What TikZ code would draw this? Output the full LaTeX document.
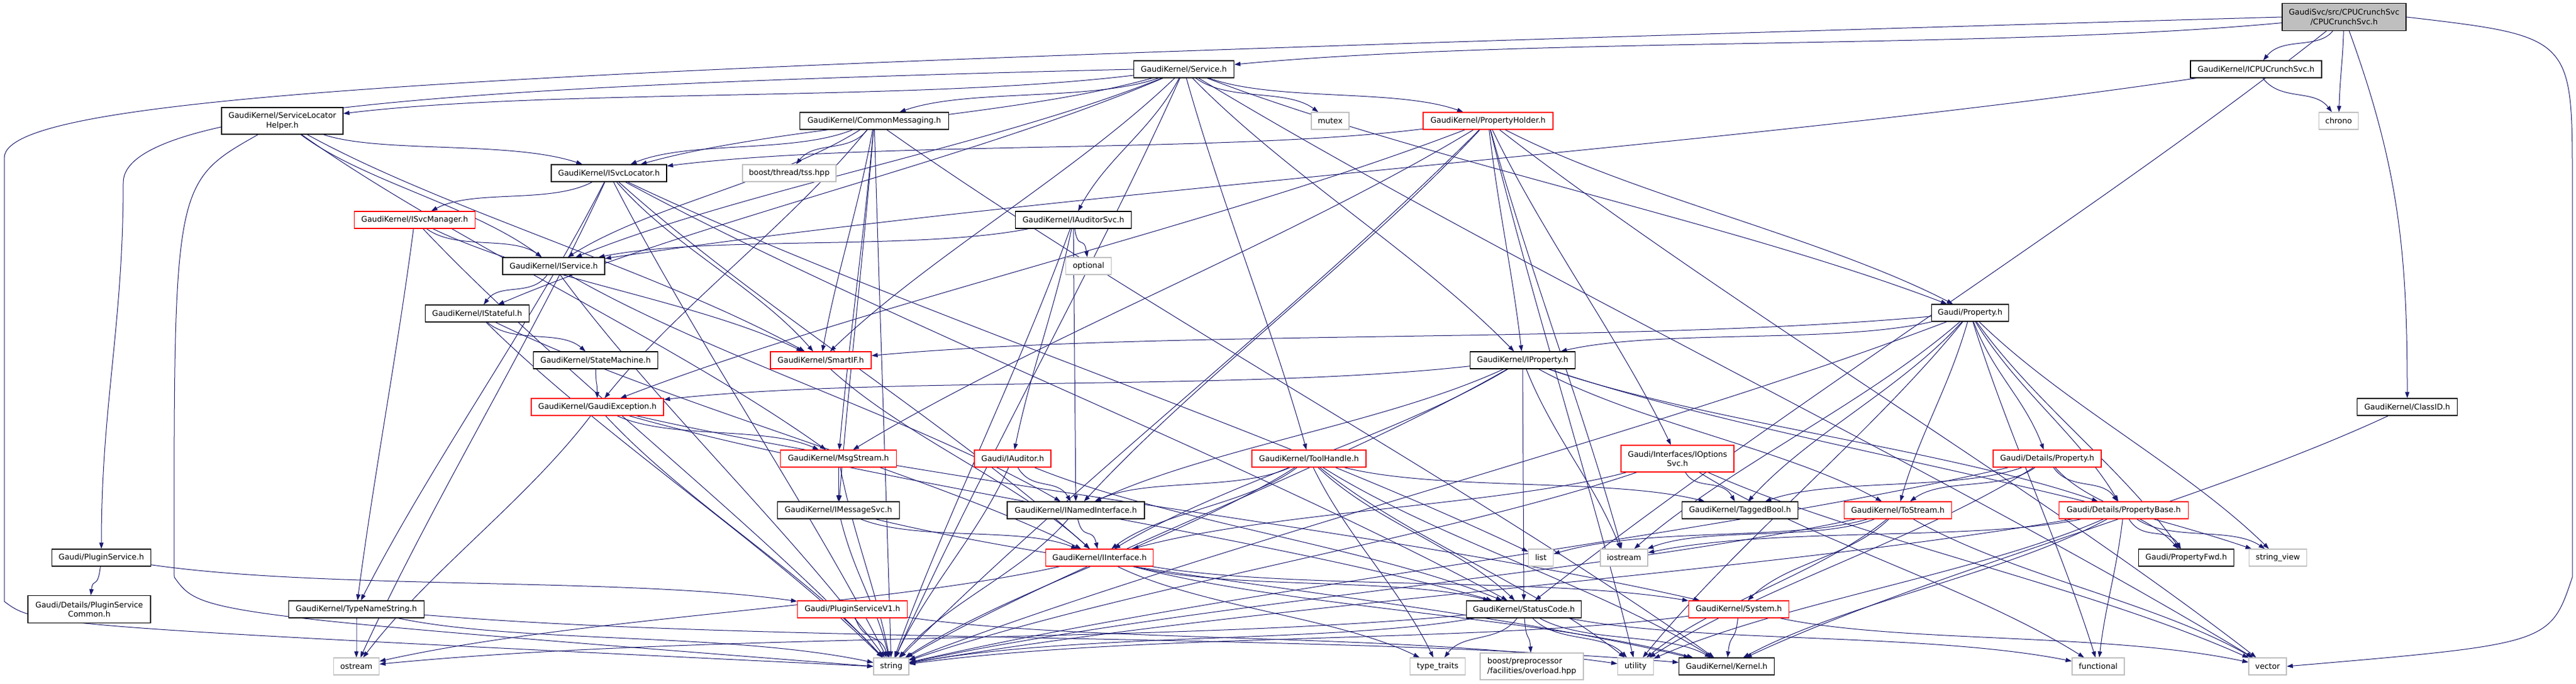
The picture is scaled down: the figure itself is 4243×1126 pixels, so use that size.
\documentclass[tikz,border=0pt]{standalone}
\usepackage{fontspec}
\setmainfont{DejaVu Sans}
\usetikzlibrary{arrows.meta,backgrounds,positioning,calc}

\definecolor{edgeblue}{HTML}{191970}
\definecolor{extgray}{HTML}{BFBFBF}

\tikzset{
  file/.style={draw=black, fill=white, line width=1.2pt, minimum height=28pt, inner sep=2pt,
    font=\fontsize{12.8}{15.5}\selectfont, align=center},
  trunc/.style={file, draw=red},
  ext/.style={file, draw=extgray},
  rootfile/.style={file, fill=extgray},
  edge/.style={draw=edgeblue, line width=1pt, -{Triangle[length=10pt,width=7pt]}},
}

\begin{document}
\begin{tikzpicture}[x=1pt,y=-1pt]

  \useasboundingbox (0,0) rectangle (4243,1126);

  % top of the graph
  \node[rootfile, minimum width=204pt, minimum height=45pt] (root) at (3861,28) {GaudiSvc/src/CPUCrunchSvc\\/CPUCrunchSvc.h};
  \node[file, minimum width=165pt] (svc) at (1950,114) {GaudiKernel/Service.h};
  \node[file, minimum width=216pt] (icpu) at (3716,114) {GaudiKernel/ICPUCrunchSvc.h};

  \node[file, minimum width=200pt, minimum height=44pt] (slh) at (465,199) {GaudiKernel/ServiceLocator\\Helper.h};
  \node[file, minimum width=245pt] (cmsg) at (1440,199) {GaudiKernel/CommonMessaging.h};
  \node[ext, minimum width=62pt] (mutex) at (2191,199) {mutex};
  \node[trunc, minimum width=214pt] (pholder) at (2451,199) {GaudiKernel/PropertyHolder.h};
  \node[ext, minimum width=65pt] (chrono) at (3852,199) {chrono};

  \node[file, minimum width=190pt] (isvcloc) at (1003,285) {GaudiKernel/ISvcLocator.h};
  \node[ext, minimum width=154pt] (tss) at (1300,285) {boost/thread/tss.hpp};

  \node[trunc, minimum width=199pt] (isvcmgr) at (683,362) {GaudiKernel/ISvcManager.h};
  \node[file, minimum width=191pt] (iaudsvc) at (1768,362) {GaudiKernel/IAuditorSvc.h};

  \node[file, minimum width=168pt] (iservice) at (912,438) {GaudiKernel/IService.h};
  \node[ext, minimum width=75pt] (optional) at (1793,438) {optional};

  \node[file, minimum width=171pt] (istateful) at (786,516) {GaudiKernel/IStateful.h};
  \node[file, minimum width=127pt] (prop) at (3245,515) {Gaudi/Property.h};

  \node[file, minimum width=205pt] (statemach) at (981,593) {GaudiKernel/StateMachine.h};
  \node[trunc, minimum width=166pt] (smartif) at (1352,593) {GaudiKernel/SmartIF.h};
  \node[file, minimum width=173pt] (iprop) at (2508,593) {GaudiKernel/IProperty.h};

  \node[trunc, minimum width=218pt] (gexc) at (984,670) {GaudiKernel/GaudiException.h};
  \node[file, minimum width=165pt] (classid) at (3965,670) {GaudiKernel/ClassID.h};

  \node[trunc, minimum width=191pt] (msgstream) at (1381,755) {GaudiKernel/MsgStream.h};
  \node[trunc, minimum width=126pt] (iauditor) at (1668,755) {Gaudi/IAuditor.h};
  \node[trunc, minimum width=188pt] (toolhandle) at (2156,755) {GaudiKernel/ToolHandle.h};
  \node[trunc, minimum width=186pt, minimum height=44pt] (iopts) at (2763,755) {Gaudi/Interfaces/IOptions\\Svc.h};
  \node[trunc, minimum width=178pt] (detprop) at (3372,755) {Gaudi/Details/Property.h};

  \node[file, minimum width=201pt] (imsgsvc) at (1381,840) {GaudiKernel/IMessageSvc.h};
  \node[file, minimum width=226pt] (inamed) at (1772,840) {GaudiKernel/INamedInterface.h};
  \node[file, minimum width=191pt] (tagged) at (2866,840) {GaudiKernel/TaggedBool.h};
  \node[trunc, minimum width=177pt] (tostream) at (3126,840) {GaudiKernel/ToStream.h};
  \node[trunc, minimum width=213pt] (propbase) at (3498,840) {Gaudi/Details/PropertyBase.h};

  \node[file, minimum width=163pt] (pluginsvc) at (167,918) {Gaudi/PluginService.h};
  \node[trunc, minimum width=177pt] (iinterface) at (1811,918) {GaudiKernel/IInterface.h};
  \node[ext, minimum width=41pt] (list) at (2538,918) {list};
  \node[ext, minimum width=78pt] (iostream) at (2675,918) {iostream};
  \node[file, minimum width=157pt] (propfwd) at (3601,918) {Gaudi/PropertyFwd.h};
  \node[ext, minimum width=95pt] (strview) at (3752,918) {string\_view};

  \node[file, minimum width=202pt, minimum height=45pt] (plugincommon) at (147,1003) {Gaudi/Details/PluginService\\Common.h};
  \node[file, minimum width=223pt] (typename) at (587,1003) {GaudiKernel/TypeNameString.h};
  \node[trunc, minimum width=181pt] (pluginv1) at (1404,1003) {Gaudi/PluginServiceV1.h};
  \node[file, minimum width=189pt] (statuscode) at (2510,1003) {GaudiKernel/StatusCode.h};
  \node[trunc, minimum width=165pt] (system) at (2864,1003) {GaudiKernel/System.h};

  % bottom row
  \node[ext, minimum width=75pt] (ostream) at (587,1097) {ostream};
  \node[ext, minimum width=58pt] (string) at (1468,1097) {string};
  \node[ext, minimum width=91pt] (typetraits) at (2368,1097) {type\_traits};
  \node[ext, minimum width=170pt, minimum height=44pt, align=left] (overload) at (2523,1097) {boost/preprocessor\\/facilities/overload.hpp};
  \node[ext, minimum width=59pt] (utility) at (2694,1097) {utility};
  \node[file, minimum width=157pt] (kernel) at (2844,1097) {GaudiKernel/Kernel.h};
  \node[ext, minimum width=86pt] (functional) at (3456,1097) {functional};
  \node[ext, minimum width=62pt] (vector) at (3735,1097) {vector};

  % bends of the long edges
  \coordinate (rs1) at (900,110);
  \coordinate (rs2) at (7,150);
  \coordinate (rs3) at (7,260);
  \coordinate (rs4) at (7,990);
  \coordinate (rs5) at (60,1030);
  \coordinate (sp1) at (800,140);
  \coordinate (sp2) at (205,175);
  \coordinate (sp3) at (203,300);
  \coordinate (sl1) at (286,300);
  \coordinate (sl2) at (287,950);
  \coordinate (sl3) at (330,1010);
  \coordinate (rv1) at (4237,60);
  \coordinate (rv2) at (4237,300);
  \coordinate (rv3) at (4237,950);
  \coordinate (rv4) at (4200,1060);

  \begin{scope}[on background layer]
    \draw[edge] (root.west) .. controls (rs1) and (rs2) .. (rs3) -- (rs4) .. controls (rs5) .. (string.west);
    \draw[edge] (svc.west) .. controls (sp1) and (sp2) .. (sp3) to[out=-90,in=90] (pluginsvc.north);
    \draw[edge] (slh) .. controls (sl1) .. (sl2) .. controls (sl3) .. (string.west);
    \draw[edge] (root.east) .. controls (rv1) .. (rv2) -- (rv3) .. controls (rv4) .. (vector.east);
    \draw[edge] (root) to[out=-70,in=90] (classid);

    \foreach \a/\b in {root/icpu, root/svc, root/chrono, root/statuscode, icpu/iservice, icpu/chrono,
      svc/slh, svc/cmsg, svc/isvcloc, svc/iservice, svc/istateful, svc/smartif, svc/string,
      svc/iaudsvc, svc/mutex, svc/pholder, svc/iprop, svc/prop, svc/toolhandle, svc/vector,
      slh/isvcloc, slh/iservice, slh/smartif, slh/msgstream,
      cmsg/isvcloc, cmsg/iservice, cmsg/tss, cmsg/smartif, cmsg/gexc, cmsg/msgstream, cmsg/imsgsvc,
      cmsg/string, cmsg/kernel,
      pholder/isvcloc, pholder/gexc, pholder/msgstream, pholder/inamed, pholder/string, pholder/iprop,
      pholder/iostream, pholder/iopts, pholder/utility, pholder/prop, pholder/vector,
      isvcloc/isvcmgr, isvcloc/iinterface, isvcloc/smartif, isvcloc/typename, isvcloc/list,
      isvcloc/string, isvcloc/statuscode, isvcloc/ostream,
      isvcmgr/iservice, isvcmgr/smartif, isvcmgr/typename, isvcmgr/string,
      iaudsvc/iservice, iaudsvc/optional, iaudsvc/iauditor, iaudsvc/inamed, iaudsvc/string,
      iservice/istateful, iservice/inamed, iservice/string,
      istateful/statemach, istateful/iinterface, istateful/string,
      statemach/gexc,
      gexc/msgstream, gexc/ostream, gexc/string, gexc/statuscode, gexc/system,
      smartif/iinterface,
      iprop/gexc, iprop/inamed, iprop/iinterface, iprop/string, iprop/statuscode, iprop/iostream,
      iprop/tostream, iprop/propbase, iprop/strview,
      prop/iprop, prop/smartif, prop/detprop, prop/propbase, prop/propfwd, prop/tostream, prop/tagged,
      prop/string, prop/strview, prop/utility, prop/iostream, prop/functional,
      classid/kernel,
      msgstream/imsgsvc, msgstream/string,
      imsgsvc/iinterface, imsgsvc/string, imsgsvc/kernel,
      iauditor/inamed, iauditor/string, iauditor/statuscode,
      toolhandle/inamed, toolhandle/iinterface, toolhandle/string, toolhandle/typetraits,
      toolhandle/utility, toolhandle/kernel, toolhandle/tagged, toolhandle/statuscode,
      iopts/tagged, iopts/iinterface, iopts/string, iopts/functional, iopts/vector,
      detprop/tagged, detprop/tostream, detprop/propbase, detprop/propfwd, detprop/string, detprop/utility,
      tostream/list, tostream/iostream, tostream/string, tostream/vector, tostream/utility, tostream/system,
      propbase/propfwd, propbase/strview, propbase/functional, propbase/string, propbase/kernel,
      propbase/utility, propbase/iostream,
      pluginsvc/plugincommon, pluginsvc/pluginv1,
      pluginv1/string, pluginv1/utility,
      typename/ostream, typename/string, typename/kernel,
      iinterface/ostream, iinterface/statuscode, iinterface/system, iinterface/kernel, iinterface/typetraits,
      inamed/iinterface, inamed/string,
      statuscode/ostream, statuscode/string, statuscode/typetraits, statuscode/overload,
      statuscode/utility, statuscode/kernel, statuscode/functional,
      system/kernel, system/string, system/vector}{
      \draw[edge] (\a) .. controls ($(\a)!0.3!(\b)+(0,28)$) and ($(\a)!0.7!(\b)+(0,-28)$) .. (\b);
    }
  \end{scope}

\end{tikzpicture}
\end{document}
